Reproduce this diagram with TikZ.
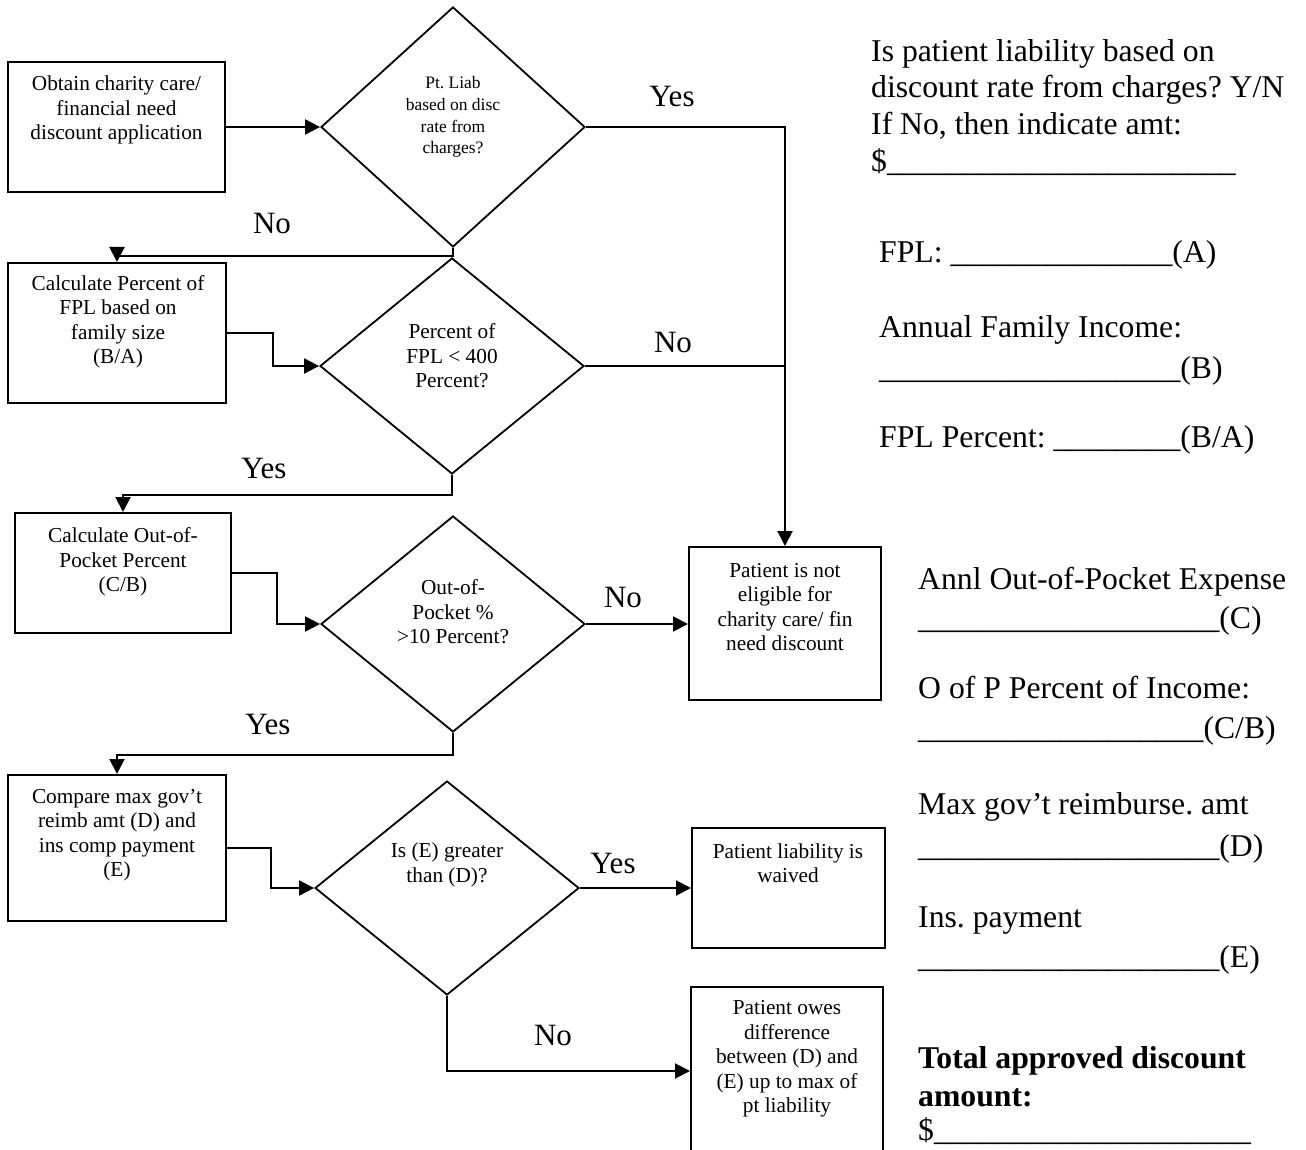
\documentclass[tikz,border=0pt]{standalone}
\usepackage{fontspec}
\setmainfont{Liberation Serif}
\usetikzlibrary{shapes.geometric,arrows.meta}
\frenchspacing
\newcount\blankcount
\newcommand\blanks[1]{\blankcount=#1\relax\loop\ifnum\blankcount>0 \_\advance\blankcount by -1 \repeat}
\tikzset{
 box/.style={draw, line width=2pt, rectangle, inner sep=0pt},
 dia/.style={draw, diamond, line width=1.8pt, inner sep=0pt},
 txt/.style={align=center, inner sep=0pt, font=\fontsize{21.3}{24.5}\selectfont},
 smalltxt/.style={align=center, inner sep=0pt, font=\fontsize{17.5}{21.7}\selectfont},
 lbl/.style={inner sep=0pt, font=\fontsize{31}{36}\selectfont},
 form/.style={anchor=base west, inner sep=0pt, font=\fontsize{31.7}{36.5}\selectfont},
 conn/.style={line width=2pt},
 arr/.style={conn, -{Triangle[length=15pt,width=15pt]}},
}
\begin{document}
\begin{tikzpicture}[x=1pt,y=-1pt]
\useasboundingbox (0,0) rectangle (1306,1150);
\clip (0,0) rectangle (1306,1150);
\fill[white] (0,0) rectangle (1306,1150);

% boxes
\node[box, minimum width=217, minimum height=130] (b1) at (116.5,127) {};
\node[box, minimum width=218, minimum height=140] (b2) at (117,333) {};
\node[box, minimum width=216, minimum height=120] (b3) at (123,573) {};
\node[box, minimum width=218, minimum height=146] (b4) at (117,848) {};
\node[box, minimum width=192, minimum height=153] (ne) at (785,623.5) {};
\node[box, minimum width=193, minimum height=120] (wv) at (788.5,888) {};
\node[box, minimum width=192, minimum height=168] (ow) at (787,1071) {};

% diamonds
\node[dia, minimum width=264, minimum height=240] (d1) at (453,127) {};
\node[dia, minimum width=264, minimum height=216] (d2) at (452,366) {};
\node[dia, minimum width=264, minimum height=216] (d3) at (453,624) {};
\node[dia, minimum width=264, minimum height=214] (d4) at (447,888) {};

% node texts
\node[txt] (b1t) at (116.5,110) {Obtain charity care/\\financial need\\discount application};
\node[smalltxt] (d1t) at (453,117) {Pt. Liab\\based on disc\\rate from\\charges?};
\node[txt] (b2t) at (118,322) {Calculate Percent of\\FPL based on\\family size\\(B/A)};
\node[txt] (d2t) at (452,356) {Percent of\\FPL < 400\\Percent?};
\node[txt] (b3t) at (123,562) {Calculate Out-of-\\Pocket Percent\\(C/B)};
\node[txt] (d3t) at (453,612) {Out-of-\\Pocket \%\\>10 Percent?};
\node[txt] (b4t) at (117,835) {Compare max gov’t\\reimb amt (D) and\\ins comp payment\\(E)};
\node[txt] (d4t) at (447,865) {Is (E) greater\\than (D)?};
\node[txt] (net) at (785,607) {Patient is not\\eligible for\\charity care/ fin\\need discount};
\node[txt] (wvt) at (788,863) {Patient liability is\\waived};
\node[txt] (owt) at (787,1059) {Patient owes\\difference\\between (D) and\\(E) up to max of\\pt liability};

% connectors
\draw[arr] (b1.east) -- (d1.west);
\draw[arr] (d1.east) -| (ne.north);
\draw[conn] (d2.east) -- (d2.east -| ne.north);
\draw[arr] (d1.south) -- ++(0,8) -| (b2.north);
\draw[arr] (b2.east) -- ++(46,0) |- (d2.west);
\draw[arr] (d2.south) -- ++(0,20) -| (b3.north);
\draw[arr] (b3.east) -- ++(45,0) |- (d3.west);
\draw[arr] (d3.east) -- (d3.east -| ne.west);
\draw[arr] (d3.south) -- ++(0,22) -| (b4.north);
\draw[arr] (b4.east) -- ++(44,0) |- (d4.west);
\draw[arr] (d4.east) -- (wv.west);
\draw[arr] (d4.south) |- (ow.west);

% branch labels
\node[lbl] (l1) at (672,97) {Yes};
\node[lbl] (l2) at (272,224) {No};
\node[lbl] (l3) at (673,343) {No};
\node[lbl] (l4) at (264,468) {Yes};
\node[lbl] (l5) at (623,597) {No};
\node[lbl] (l6) at (268,724) {Yes};
\node[lbl] (l7) at (613,863) {Yes};
\node[lbl] (l8) at (553,1035) {No};

% form text, block 1
\node[form] (f1) at (871,62) {Is patient liability based on};
\node[form] (f2) at (871,98) {discount rate from charges? Y/N};
\node[form] (f3) at (871,135) {If No, then indicate amt:};
\node[form] (f4) at (871,172) {\$\blanks{22}};
\node[form] (f5) at (879,263) {FPL: \blanks{14}(A)};
\node[form] (f6) at (879,337) {Annual Family Income:};
\node[form] (f7) at (879,378) {\blanks{19}(B)};
\node[form] (f8) at (879,447) {FPL Percent: \blanks{8}(B/A)};

% form text, block 2
\node[form] (g1) at (918,589) {Annl Out-of-Pocket Expense};
\node[form] (g2) at (918,628) {\blanks{19}(C)};
\node[form] (g3) at (918,698) {O of P Percent of Income:};
\node[form] (g4) at (918,738) {\blanks{18}(C/B)};
\node[form] (g5) at (918,814) {Max gov’t reimburse. amt};
\node[form] (g6) at (918,856) {\blanks{19}(D)};
\node[form] (g7) at (918,927) {Ins. payment};
\node[form] (g8) at (918,967) {\blanks{19}(E)};
\node[form, font=\fontsize{31.7}{36.5}\selectfont\bfseries] (g9) at (918,1068) {Total approved discount};
\node[form, font=\fontsize{31.7}{36.5}\selectfont\bfseries] (g10) at (918,1106) {amount:};
\node[form] (g11) at (918,1140) {\$\blanks{20}};
\end{tikzpicture}
\end{document}
